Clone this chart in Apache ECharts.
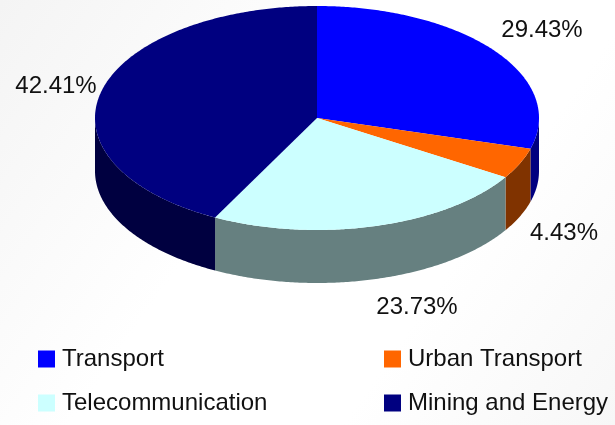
<!DOCTYPE html>
<html>
<head>
<meta charset="utf-8">
<style>
html, body { margin: 0; padding: 0; background: #fff; }
#main { width: 615px; height: 425px; }
</style>
<script src="https://cdn.jsdelivr.net/npm/echarts@6/dist/echarts.min.js"></script>
</head>
<body>
<div id="main"></div>
<script>
var categories = ['Transport', 'Urban Transport', 'Telecommunication', 'Mining and Energy'];
var shares = [29.43, 4.43, 23.73, 42.41];
var topColors = ['#0000ff', '#ff6600', '#ccffff', '#000080'];
var sideColors = ['#000080', '#803300', '#668080', '#000040'];
var shareLabels = ['29.43%', '4.43%', '23.73%', '42.41%'];

// 3D look: ellipse and wall height, in px
var cx = 317, cy = 118, rx = 222, ry = 112, depth = 53;
var labelPlaces = [[542, 30], [564, 233], [417, 307], [56, 86]];
var fontName = '"Liberation Sans", Arial, sans-serif';

var total = shares.reduce(function(a, b) { return a + b; }, 0);

// angle counted clockwise from 12 o'clock
function rim(angle, drop) {
	return [cx + rx * Math.sin(angle), cy - ry * Math.cos(angle) + (drop || 0)];
}

function arcPoints(from, to, drop) {
	var pts = [];
	var steps = Math.max(2, Math.ceil((to - from) / 0.01));
	for (var i = 0; i <= steps; i++) {
		pts.push(rim(from + (to - from) * i / steps, drop));
	}
	return pts;
}

function startOf(index) {
	var sum = 0;
	for (var i = 0; i < index; i++) {
		sum += shares[i];
	}
	return sum / total * Math.PI * 2;
}

function makeRenderItem(index) {
	return function(params, api) {
		var from = startOf(index);
		var to = from + api.value(0) / total * Math.PI * 2;
		var children = [];

		// only the front half of the wall can be seen
		var wallFrom = Math.max(from, Math.PI / 2);
		var wallTo = Math.min(to, Math.PI * 1.5);
		if (wallTo > wallFrom) {
			var wall = arcPoints(wallFrom, wallTo, 0).concat(arcPoints(wallFrom, wallTo, depth).reverse());
			children.push({
				type: 'polygon',
				shape: { points: wall },
				style: { fill: sideColors[index] }
			});
		}

		children.push({
			type: 'polygon',
			shape: { points: [[cx, cy]].concat(arcPoints(from, to, 0)) },
			style: { fill: api.visual('color') }
		});

		children.push({
			type: 'text',
			x: labelPlaces[index][0],
			y: labelPlaces[index][1],
			style: {
				text: shareLabels[index],
				fill: '#111',
				font: '24px ' + fontName,
				align: 'center',
				verticalAlign: 'middle'
			}
		});
		return { type: 'group', children: children };
	};
}

var series = categories.map(function(name, i) {
	return {
		type: 'custom',
		name: name,
		coordinateSystem: 'none',
		silent: true,
		animation: false,
		itemStyle: { color: topColors[i] },
		data: [[shares[i]]],
		renderItem: makeRenderItem(i)
	};
});

function legendColumn(left, names) {
	return {
		orient: 'vertical',
		left: left,
		top: 347,
		itemWidth: 17,
		itemHeight: 17,
		itemGap: 20,
		padding: 0,
		icon: 'rect',
		selectedMode: false,
		data: names,
		textStyle: { fontFamily: fontName, fontSize: 24, color: '#111', padding: [0, 0, 0, 2] }
	};
}

var myChart = echarts.init(document.getElementById('main'), null, { renderer: 'canvas' });
myChart.setOption({
	animation: false,
	backgroundColor: {
		type: 'linear',
		x: 0,
		y: 0,
		x2: 1,
		y2: 1,
		colorStops: [
			{ offset: 0, color: '#f4f4f4' },
			{ offset: 0.4, color: '#ffffff' },
			{ offset: 0.7, color: '#ffffff' },
			{ offset: 1, color: '#f7f7f7' }
		]
	},
	legend: [
		legendColumn(38, [categories[0], categories[2]]),
		legendColumn(384, [categories[1], categories[3]])
	],
	series: series
});
</script>
</body>
</html>
